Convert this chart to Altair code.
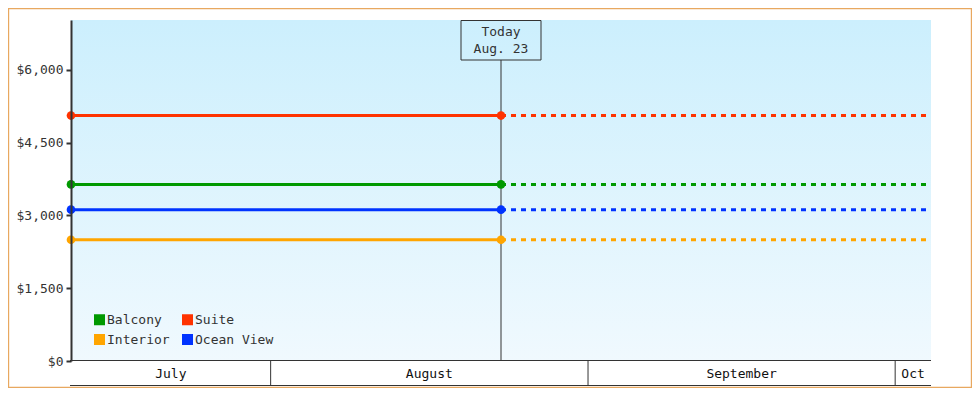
import altair as alt
import pandas as pd

# ---- data ----
series = ["Balcony", "Suite", "Interior", "Ocean View"]
prices = [3640, 5060, 2500, 3120]
colors = ["#009900", "#ff3300", "#ffa500", "#0033ff"]
# legend entries are filled column by column (2 columns)
legend_order = ["Balcony", "Interior", "Suite", "Ocean View"]

start_date = "2024-07-12T12:00:00"
today_date = "2024-08-23T12:00:00"
end_date = "2024-10-04T12:00:00"
today_label = ["Today", "Aug. 23"]

month_names = ["July", "August", "September", "Oct"]
month_starts = ["2024-07-01T00:00:00", "2024-08-01T00:00:00",
                "2024-09-01T00:00:00", "2024-10-01T00:00:00"]
month_ends = ["2024-08-01T00:00:00", "2024-09-01T00:00:00",
              "2024-10-01T00:00:00", "2024-11-01T00:00:00"]

y_ticks = [0, 1500, 3000, 4500, 6000]

FONT = "DejaVu Sans Mono"
INK = "#333333"

# ---- tables ----
solid = pd.DataFrame(
    [{"series": s, "date": d, "price": p}
     for s, p in zip(series, prices) for d in (start_date, today_date)]
)
dashed = pd.DataFrame(
    [{"series": s, "date": d, "price": p}
     for s, p in zip(series, prices) for d in (today_date, end_date)]
)

t0, t1 = pd.Timestamp(start_date), pd.Timestamp(end_date)
mrows = []
for n, a, b in zip(month_names, month_starts, month_ends):
    a, b = pd.Timestamp(a), pd.Timestamp(b)
    lo, hi = max(a, t0), min(b, t1)
    mid = lo + (hi - lo) / 2
    mrows.append({"month": n, "mid": mid.strftime("%Y-%m-%dT%H:%M:%S"),
                  "start": a.strftime("%Y-%m-%dT%H:%M:%S"), "visible_start": a > t0})
months = pd.DataFrame(mrows)
seps = months[months["visible_start"]]

today_df = pd.DataFrame({"date": [today_date], "label": ["\n".join(today_label)]})

W, H = 860, 341
PADL, PADT, PADR, PADB = 63, 12, 41, 27

xscale = alt.Scale(domain=[start_date, end_date])
yscale = alt.Scale(domain=[0, 7030], nice=False, zero=True)
cscale = alt.Scale(domain=series, range=colors)

X = alt.X("date:T", scale=xscale, axis=None)
Y = alt.Y("price:Q", scale=yscale,
          axis=alt.Axis(values=y_ticks, format="$,.0f", title=None, grid=False,
                        domainColor=INK, domainWidth=2, tickColor=INK, tickWidth=2,
                        tickSize=5, labelFont=FONT, labelFontSize=13, labelColor=INK,
                        labelPadding=3, zindex=2))
LEG = alt.Legend(title=None, orient="none", legendX=22, legendY=293,
                 columns=2, values=legend_order, symbolType="square", symbolSize=121,
                 symbolStrokeWidth=0, symbolOpacity=1,
                 labelFont=FONT, labelFontSize=13, labelColor=INK,
                 labelOffset=1, columnPadding=11, rowPadding=6, padding=0)
C = alt.Color("series:N", scale=cscale, legend=LEG)

base_df = pd.DataFrame({"k": [0]})

background = alt.Chart(base_df).mark_rect(
    color=alt.LinearGradient(
        gradient="linear", x1=0, y1=0, x2=0, y2=1,
        stops=[alt.GradientStop(color="#cceffd", offset=0),
               alt.GradientStop(color="#f0f9fe", offset=1)]
    )
).encode(x=alt.value(0), x2=alt.value(W), y=alt.value(0), y2=alt.value(H))

border = alt.Chart(base_df).mark_rect(
    fill="white", fillOpacity=0, stroke="#e8a860", strokeWidth=1.2
).encode(x=alt.value(-PADL + 0.6), x2=alt.value(W + PADR - 0.6),
         y=alt.value(-PADT + 0.6), y2=alt.value(H + PADB - 0.6))

today_rule = alt.Chart(today_df).mark_rule(color=INK, strokeWidth=1).encode(
    x=alt.X("date:T", scale=xscale, axis=None), y=alt.value(40), y2=alt.value(H)
)
today_box = alt.Chart(today_df).mark_rect(
    fill="white", fillOpacity=0, stroke=INK, strokeWidth=1, xOffset=-40, x2Offset=40
).encode(x=alt.X("date:T", scale=xscale, axis=None), x2="date:T",
         y=alt.value(0.5), y2=alt.value(40))
today_text = alt.Chart(today_df).mark_text(
    font=FONT, fontSize=13, color=INK, lineBreak="\n", lineHeight=17,
    baseline="middle", align="center"
).encode(x=alt.X("date:T", scale=xscale, axis=None), y=alt.value(12), text="label:N")

lines_solid = alt.Chart(solid).mark_line(strokeWidth=3).encode(x=X, y=Y, color=C)
lines_dashed = alt.Chart(dashed).mark_line(strokeWidth=3, strokeDash=[5, 5]).encode(
    x=X, y=Y, color=C)
points = alt.Chart(solid).mark_point(filled=True, opacity=1, size=75, shape="circle").encode(
    x=X, y=Y, color=C)

# month band axis
top_line = alt.Chart(base_df).mark_rule(color=INK, strokeWidth=1).encode(
    x=alt.value(-1), x2=alt.value(W), y=alt.value(H - 0.5)
)
bottom_line = alt.Chart(base_df).mark_rule(color=INK, strokeWidth=1).encode(
    x=alt.value(-1), x2=alt.value(W), y=alt.value(H + 24.5)
)
sep_rules = alt.Chart(seps).mark_rule(color=INK, strokeWidth=1).encode(
    x=alt.X("start:T", scale=xscale, axis=None), y=alt.value(H), y2=alt.value(H + 24.5)
)
month_text = alt.Chart(months).mark_text(
    font=FONT, fontSize=13, color="#111111", baseline="middle", align="center"
).encode(x=alt.X("mid:T", scale=xscale, axis=None), y=alt.value(H + 13), text="month:N")

chart = alt.layer(
    background, border, today_rule, today_box, today_text,
    lines_dashed, lines_solid, points,
    top_line, bottom_line, sep_rules, month_text
).properties(
    width=W, height=H,
    autosize=alt.AutoSizeParams(type="none"),
    padding={"left": PADL, "top": PADT, "right": PADR, "bottom": PADB},
    background="white"
).configure_view(stroke=None)

chart.save("out.html", embed_options={"renderer": "svg", "actions": False})
